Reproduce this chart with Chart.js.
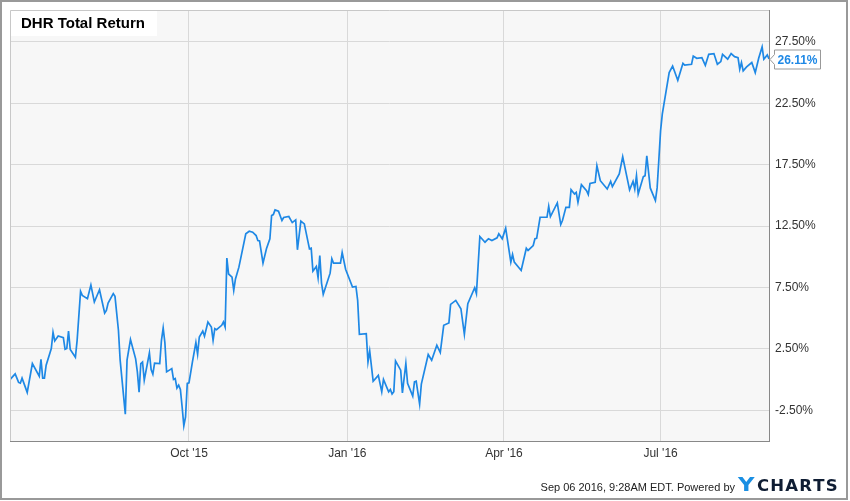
<!DOCTYPE html>
<html>
<head>
<meta charset="utf-8">
<script src="https://cdn.jsdelivr.net/npm/chart.js@4.4.1/dist/chart.umd.min.js"></script>
<style>
  html, body { margin: 0; padding: 0; background: #fff; }
  canvas { display: block; }
</style>
</head>
<body>
<canvas id="chart" width="850" height="501"></canvas>
<script>
// DHR total return (%)
const dates = [
  '2015-06-19','2015-06-22','2015-06-24','2015-06-25','2015-06-26','2015-06-29','2015-07-02','2015-07-06',
  '2015-07-07','2015-07-08','2015-07-09','2015-07-10','2015-07-13','2015-07-14','2015-07-15','2015-07-17',
  '2015-07-20','2015-07-21','2015-07-22','2015-07-23','2015-07-24','2015-07-27','2015-07-28','2015-07-30',
  '2015-07-31','2015-08-03','2015-08-05','2015-08-07','2015-08-10','2015-08-13','2015-08-14','2015-08-15',
  '2015-08-18','2015-08-19','2015-08-21','2015-08-22','2015-08-25','2015-08-26','2015-08-28','2015-08-31',
  '2015-09-01','2015-09-02','2015-09-03','2015-09-04','2015-09-05','2015-09-08','2015-09-09','2015-09-10',
  '2015-09-11','2015-09-14','2015-09-15','2015-09-16','2015-09-17','2015-09-18','2015-09-21','2015-09-22',
  '2015-09-23','2015-09-24','2015-09-25','2015-09-26','2015-09-27','2015-09-28','2015-09-29','2015-09-30',
  '2015-10-01','2015-10-03','2015-10-05','2015-10-06','2015-10-07','2015-10-09','2015-10-10','2015-10-12',
  '2015-10-14','2015-10-15','2015-10-16','2015-10-17','2015-10-20','2015-10-21','2015-10-22','2015-10-23',
  '2015-10-24','2015-10-26','2015-10-27','2015-10-28','2015-10-30','2015-11-03','2015-11-05','2015-11-07',
  '2015-11-09','2015-11-10','2015-11-11','2015-11-13','2015-11-15','2015-11-17','2015-11-18','2015-11-19',
  '2015-11-20','2015-11-22','2015-11-24','2015-11-25','2015-11-28','2015-11-30','2015-12-02','2015-12-03',
  '2015-12-05','2015-12-07','2015-12-10','2015-12-11','2015-12-12','2015-12-14','2015-12-15','2015-12-16',
  '2015-12-17','2015-12-18','2015-12-22','2015-12-23','2015-12-24','2015-12-28','2015-12-29','2015-12-31',
  '2016-01-04','2016-01-06','2016-01-07','2016-01-08','2016-01-12','2016-01-13','2016-01-14','2016-01-16',
  '2016-01-19','2016-01-21','2016-01-22','2016-01-25','2016-01-26','2016-01-27','2016-01-28','2016-01-29',
  '2016-02-01','2016-02-02','2016-02-04','2016-02-05','2016-02-08','2016-02-09','2016-02-10','2016-02-12',
  '2016-02-13','2016-02-17','2016-02-19','2016-02-22','2016-02-24','2016-02-26','2016-02-29','2016-03-01',
  '2016-03-04','2016-03-07','2016-03-09','2016-03-11','2016-03-15','2016-03-16','2016-03-18','2016-03-21',
  '2016-03-23','2016-03-25','2016-03-28','2016-03-29','2016-03-31','2016-04-02','2016-04-05','2016-04-06',
  '2016-04-07','2016-04-11','2016-04-14','2016-04-15','2016-04-18','2016-04-19','2016-04-20','2016-04-22',
  '2016-04-26','2016-04-27','2016-04-28','2016-05-02','2016-05-04','2016-05-05','2016-05-07','2016-05-09',
  '2016-05-10','2016-05-12','2016-05-13','2016-05-14','2016-05-16','2016-05-19','2016-05-20','2016-05-21',
  '2016-05-24','2016-05-25','2016-05-27','2016-05-31','2016-06-02','2016-06-03','2016-06-07','2016-06-09',
  '2016-06-11','2016-06-13','2016-06-15','2016-06-16','2016-06-17','2016-06-18','2016-06-21','2016-06-22',
  '2016-06-23','2016-06-25','2016-06-28','2016-06-29','2016-06-30','2016-07-01','2016-07-02','2016-07-06',
  '2016-07-08','2016-07-11','2016-07-14','2016-07-15','2016-07-19','2016-07-20','2016-07-22','2016-07-25',
  '2016-07-27','2016-07-29','2016-08-01','2016-08-03','2016-08-05','2016-08-06','2016-08-09','2016-08-11',
  '2016-08-13','2016-08-15','2016-08-16','2016-08-17','2016-08-18','2016-08-20','2016-08-23','2016-08-25',
  '2016-08-27','2016-08-29','2016-08-30','2016-09-01','2016-09-02'
];
const totalReturn = [
  0.0, 0.47, -0.23, -0.29, 0.12, -1.04, 1.31, 0.28,
  1.66, 0.12, 0.12, 1.17, 2.53, 3.85, 3.15, 3.55,
  3.42, 2.47, 2.53, 3.96, 2.45, 1.82, 3.2, 7.19,
  6.86, 6.59, 7.7, 6.32, 7.32, 5.42, 5.64, 6.23,
  7.0, 6.78, 4.02, 1.58, -2.81, 1.58, 3.26, 1.69,
  0.63, -1.02, 1.31, 1.44, -0.04, 2.17, 0.82, 0.44,
  1.34, 1.31, 3.2, 4.2, 2.99, 0.63, 0.9, 0.01,
  0.09, -0.69, -0.45, -0.8, -2.21, -3.76, -3.03, -0.31,
  -0.26, 1.44, 3.02, 2.07, 3.47, 3.96, 3.53, 4.69,
  4.28, 3.2, 4.15, 4.07, 4.42, 4.69, 4.28, 9.9,
  8.6, 8.35, 7.27, 8.2, 9.16, 11.87, 12.08, 12.0,
  11.73, 11.33, 11.3, 9.48, 10.65, 11.47, 13.36, 13.44,
  13.82, 13.71, 12.95, 13.2, 13.28, 12.79, 13.01, 10.57,
  12.9, 12.68, 10.65, 10.7, 8.83, 9.22, 8.3, 10.11,
  7.86, 6.94, 8.67, 9.84, 9.48, 9.48, 10.35, 8.99,
  7.53, 7.59, 6.45, 3.69, 3.74, 1.44, 2.33, -0.13,
  0.34, -0.99, 0.01, -0.99, -0.8, -1.18, -0.99, 1.52,
  0.77, -1.08, 1.31, -0.31, -1.34, -0.18, -0.13, -1.99,
  -0.37, 2.04, 1.58, 2.8, 2.2, 4.42, 4.61, 6.13,
  6.45, 5.77, 3.69, 6.18, 7.48, 7.0, 11.65, 11.19,
  11.47, 11.33, 11.55, 11.87, 11.47, 12.33, 9.57, 10.19,
  9.57, 8.89, 10.7, 10.52, 10.92, 11.47, 11.51, 13.22,
  13.22, 14.11, 13.28, 14.39, 12.63, 12.95, 14.03, 14.03,
  15.47, 15.12, 15.25, 14.44, 15.88, 15.39, 15.07, 15.98,
  16.07, 17.42, 16.2, 15.52, 16.14, 15.71, 16.75, 18.15,
  16.8, 15.45, 16.14, 15.52, 16.61, 15.12, 16.53, 16.6,
  18.23, 15.61, 14.58, 15.61, 17.9, 20.26, 21.62, 25.0,
  25.54, 24.38, 25.76, 25.62, 25.68, 26.35, 26.17, 26.22,
  25.6, 26.49, 26.55, 25.68, 25.9, 26.49, 26.09, 26.55,
  26.3, 26.22, 25.28, 25.82, 25.14, 25.46, 25.82, 25.0,
  26.17, 27.09, 26.09, 26.44, 26.11
];

const xTickDates = ['2015-10-01', '2016-01-01', '2016-04-01', '2016-07-01'];
const xTickLabels = ["Oct '15", "Jan '16", "Apr '16", "Jul '16"];
const yTickValues = [-2.5, 2.5, 7.5, 12.5, 17.5, 22.5, 27.5];

const BASE = Date.UTC(2015, 9, 1);
function dayNum(s) {
  const [y, m, d] = s.split('-').map(Number);
  return (Date.UTC(y, m - 1, d) - BASE) / 86400000;
}

const lineBlue = '#1e88e5';
const SANS = '"Liberation Sans", Arial, sans-serif';
Chart.defaults.font.family = SANS;
Chart.defaults.font.size = 12;
Chart.defaults.color = '#333';

const frame = {
  id: 'frame',
  beforeDraw(chart) {
    const { ctx, chartArea: a } = chart;
    ctx.save();
    ctx.fillStyle = '#fff';
    ctx.fillRect(0, 0, chart.width, chart.height);
    ctx.fillStyle = '#f7f7f7';
    ctx.fillRect(a.left, a.top, a.right - a.left, a.bottom - a.top);
    ctx.strokeStyle = '#999';
    ctx.lineWidth = 2;
    ctx.strokeRect(1, 1, 846, 498);
    ctx.restore();
  },
  afterDatasetsDraw(chart) {
    const { ctx, chartArea: a, scales } = chart;
    ctx.save();
    // plot border (left/top)
    ctx.strokeStyle = '#c8c8c8';
    ctx.lineWidth = 1;
    ctx.beginPath();
    ctx.moveTo(a.left + 0.5, a.bottom);
    ctx.lineTo(a.left + 0.5, a.top + 0.5);
    ctx.lineTo(a.right, a.top + 0.5);
    ctx.stroke();

    // title box
    ctx.fillStyle = '#fff';
    ctx.fillRect(a.left + 1, a.top + 1, 146, 25);
    ctx.fillStyle = '#000';
    ctx.font = 'bold 15px ' + SANS;
    ctx.textBaseline = 'middle';
    ctx.fillText('DHR Total Return', a.left + 11, a.top + 14);

    // last value label
    const last = totalReturn[totalReturn.length - 1];
    const yp = Math.round(scales.y.getPixelForValue(last)) + 0.5;
    const x0 = a.right + 5.5, w = 46, h = 19;
    ctx.beginPath();
    ctx.moveTo(a.right + 1, yp);
    ctx.lineTo(x0, yp - 5);
    ctx.lineTo(x0, yp - h / 2);
    ctx.lineTo(x0 + w, yp - h / 2);
    ctx.lineTo(x0 + w, yp + h / 2);
    ctx.lineTo(x0, yp + h / 2);
    ctx.lineTo(x0, yp + 5);
    ctx.closePath();
    ctx.fillStyle = '#fff';
    ctx.fill();
    ctx.strokeStyle = '#999';
    ctx.stroke();
    ctx.fillStyle = lineBlue;
    ctx.font = 'bold 12px ' + SANS;
    ctx.textAlign = 'center';
    ctx.fillText(last.toFixed(2) + '%', x0 + w / 2, yp + 1);

    // footer
    ctx.textAlign = 'right';
    ctx.textBaseline = 'alphabetic';
    ctx.fillStyle = '#222';
    ctx.font = '11px ' + SANS;
    ctx.fillText('Sep 06 2016, 9:28AM EDT. Powered by', 735, 491);
    ctx.textAlign = 'left';
    ctx.save();
    ctx.translate(738, 491);
    ctx.scale(1.2, 1);
    ctx.fillStyle = '#1a8fe3';
    ctx.font = 'bold 19px "DejaVu Sans", sans-serif';
    ctx.fillText('Y', 0, 0);
    ctx.restore();
    ctx.fillStyle = '#0f1d33';
    ctx.font = 'bold 16.5px "DejaVu Sans", sans-serif';
    let lx = 757;
    for (const ch of 'CHARTS') {
      ctx.fillText(ch, lx, 491);
      lx += ctx.measureText(ch).width + 1.2;
    }
    ctx.restore();
  }
};

new Chart(document.getElementById('chart'), {
  type: 'line',
  data: {
    datasets: [{
      data: dates.map((d, i) => ({ x: dayNum(d), y: totalReturn[i] })),
      borderColor: lineBlue,
      borderWidth: 1.7,
      pointRadius: 0,
      tension: 0,
      fill: false,
    }],
  },
  options: {
    responsive: false,
    animation: false,
    layout: { padding: { left: 10, top: 10, right: 0, bottom: 0 } },
    plugins: { legend: { display: false }, tooltip: { enabled: false } },
    scales: {
      x: {
        type: 'linear',
        min: dayNum(dates[0]),
        max: dayNum(dates[dates.length - 1]),
        afterBuildTicks: (s) => { s.ticks = xTickDates.map((d) => ({ value: dayNum(d) })); },
        afterFit: (s) => { s.height = 60; s.paddingLeft = 0; s.paddingRight = 0; },
        grid: { color: '#d9d9d9', drawTicks: false },
        border: { color: '#888' },
        ticks: {
          padding: 5,
          autoSkip: false,
          maxRotation: 0,
          callback: (v, i) => xTickLabels[i],
        },
      },
      y: {
        position: 'right',
        min: -5,
        max: 30.1,
        afterBuildTicks: (s) => { s.ticks = yTickValues.map((v) => ({ value: v })); },
        afterFit: (s) => { s.width = 81; s.paddingTop = 0; s.paddingBottom = 0; },
        grid: { color: '#d9d9d9', drawTicks: false },
        border: { color: '#888' },
        ticks: {
          padding: 6,
          callback: (v) => v.toFixed(2) + '%',
        },
      },
    },
  },
  plugins: [frame],
});
</script>
</body>
</html>
